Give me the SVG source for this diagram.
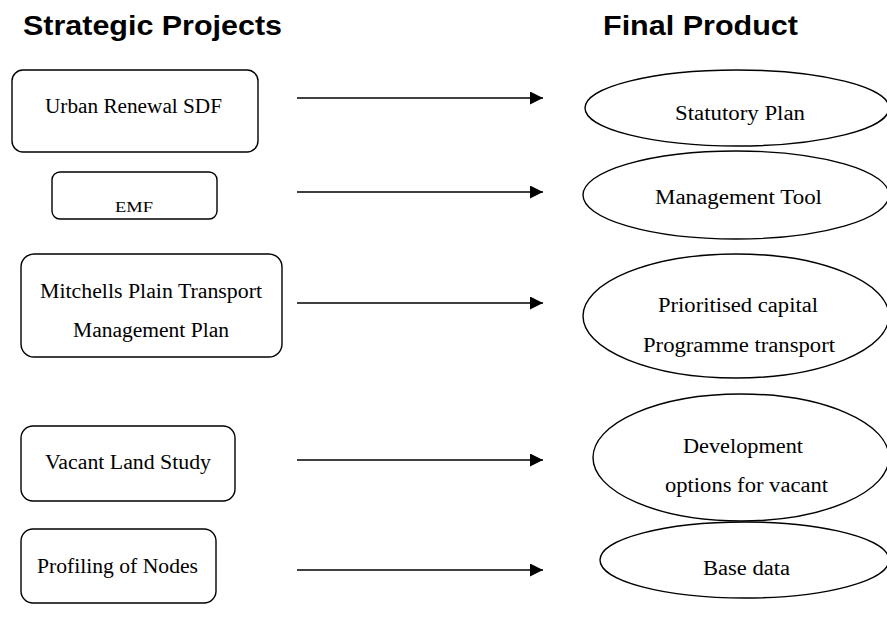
<svg xmlns="http://www.w3.org/2000/svg" width="887" height="623" viewBox="0 0 887 623">
  <style>
    .head { font-family: "Liberation Sans", Arial, sans-serif; font-weight: bold; font-size: 28px; fill: #000; }
    .lbl { font-family: "Liberation Serif", "Times New Roman", serif; font-size: 20px; fill: #000; text-anchor: middle; }
    .small { font-size: 15px; }
    .box { fill: #fff; stroke: #000; stroke-width: 1.4; }
    .oval { fill: #fff; stroke: #000; stroke-width: 1.4; }
    .link { stroke: #000; stroke-width: 1.6; fill: none; marker-end: url(#arrow); }
  </style>
  <defs>
    <marker id="arrow" markerUnits="userSpaceOnUse" markerWidth="14" markerHeight="14" refX="13" refY="6.5" orient="auto">
      <path d="M0,0 L13,6.5 L0,13 Z" fill="#000"/>
    </marker>
  </defs>
  <rect width="887" height="623" fill="#fff"/>

  <!-- column headings -->
  <text class="head" x="23" y="35" textLength="259" lengthAdjust="spacingAndGlyphs">Strategic Projects</text>
  <text class="head" x="603" y="35" textLength="195" lengthAdjust="spacingAndGlyphs">Final Product</text>

  <!-- strategic projects -->
  <g id="urban-renewal-sdf">
    <rect class="box" x="12" y="70" width="246" height="82" rx="11"/>
    <text class="lbl" x="133.5" y="113" textLength="177" lengthAdjust="spacingAndGlyphs">Urban Renewal SDF</text>
  </g>
  <g id="emf">
    <rect class="box" x="52" y="172" width="165" height="47" rx="8"/>
    <text class="lbl small" x="134" y="212" textLength="38" lengthAdjust="spacingAndGlyphs">EMF</text>
  </g>
  <g id="transport-plan">
    <rect class="box" x="21" y="254" width="261" height="103" rx="13"/>
    <text class="lbl" x="151" y="298" textLength="222" lengthAdjust="spacingAndGlyphs">Mitchells Plain Transport</text>
    <text class="lbl" x="151" y="337" textLength="156" lengthAdjust="spacingAndGlyphs">Management Plan</text>
  </g>
  <g id="vacant-land-study">
    <rect class="box" x="21" y="426" width="214" height="75" rx="12"/>
    <text class="lbl" x="128" y="469" textLength="166" lengthAdjust="spacingAndGlyphs">Vacant Land Study</text>
  </g>
  <g id="profiling-of-nodes">
    <rect class="box" x="21" y="529" width="195" height="74" rx="12"/>
    <text class="lbl" x="117.5" y="573" textLength="161" lengthAdjust="spacingAndGlyphs">Profiling of Nodes</text>
  </g>

  <!-- final products -->
  <g id="statutory-plan">
    <ellipse class="oval" cx="737" cy="108" rx="152" ry="38"/>
    <text class="lbl" x="740" y="120" textLength="130" lengthAdjust="spacingAndGlyphs">Statutory Plan</text>
  </g>
  <g id="management-tool">
    <ellipse class="oval" cx="736" cy="195" rx="153" ry="44"/>
    <text class="lbl" x="738.5" y="204" textLength="167" lengthAdjust="spacingAndGlyphs">Management Tool</text>
  </g>
  <g id="capital-programme">
    <ellipse class="oval" cx="736" cy="316" rx="153" ry="62"/>
    <text class="lbl" x="738" y="312" textLength="160" lengthAdjust="spacingAndGlyphs">Prioritised capital</text>
    <text class="lbl" x="739" y="352" textLength="192" lengthAdjust="spacingAndGlyphs">Programme transport</text>
  </g>
  <g id="development-options">
    <ellipse class="oval" cx="741" cy="457.5" rx="148" ry="63.5"/>
    <text class="lbl" x="743" y="453" textLength="120" lengthAdjust="spacingAndGlyphs">Development</text>
    <text class="lbl" x="746.5" y="492" textLength="163" lengthAdjust="spacingAndGlyphs">options for vacant</text>
  </g>
  <g id="base-data">
    <ellipse class="oval" cx="744.5" cy="560" rx="144.5" ry="38"/>
    <text class="lbl" x="746.5" y="575" textLength="87" lengthAdjust="spacingAndGlyphs">Base data</text>
  </g>

  <!-- connectors -->
  <g id="connectors">
    <line class="link" x1="297" y1="98" x2="543" y2="98"/>
    <line class="link" x1="297" y1="192" x2="543" y2="192"/>
    <line class="link" x1="297" y1="303" x2="543" y2="303"/>
    <line class="link" x1="297" y1="460" x2="543" y2="460"/>
    <line class="link" x1="297" y1="570" x2="543" y2="570"/>
  </g>
</svg>
